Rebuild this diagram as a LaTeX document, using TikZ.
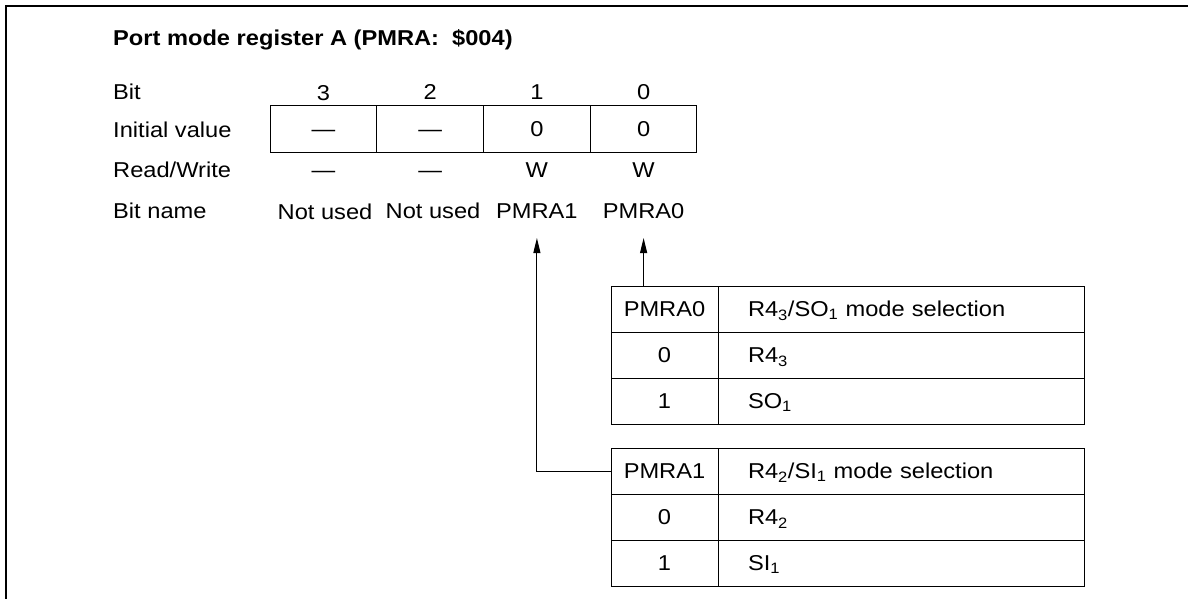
\documentclass[tikz,border=0pt]{standalone}
\usepackage{fontspec}
\setmainfont[FakeStretch=1.1]{Liberation Sans}
\usetikzlibrary{arrows.meta}
\tikzset{
  fnt/.style={font=\fontsize{21.5}{26}\selectfont},
  lbl/.style={fnt, anchor=west, inner sep=0pt, text height=15.4pt, text depth=0pt},
  txt/.style={fnt, inner sep=0pt, text height=15.4pt, text depth=0pt},
  regcell/.style={fnt, draw, line width=1pt, minimum width=106.75pt, minimum height=46pt, inner sep=0pt, text height=15.4pt, text depth=0pt},
  lcell/.style={fnt, draw, line width=1pt, minimum width=107pt, minimum height=46pt, inner sep=0pt, text height=15.4pt, text depth=0pt},
  rcell/.style={fnt, draw, line width=1pt, minimum height=46pt, text width=306pt, inner xsep=30pt, inner ysep=0pt, align=left, text height=15.4pt, text depth=0pt},
  arr/.style={line width=1pt, -{Triangle[length=15pt,width=7pt]}},
}
\begin{document}
\begin{tikzpicture}[x=1pt,y=-1pt]
\useasboundingbox (0,0) rectangle (1188,599);
\draw[line width=2pt] (6,599) -- (6,6) -- (1188,6);

\node[lbl, font=\fontsize{21.5}{26}\selectfont\bfseries] (title) at (113,37.5) {Port mode register A (PMRA:\ \ \$004)};

\node[lbl] (lbit) at (113,91.5) {Bit};
\node[lbl] (linit) at (113,130) {Initial value};
\node[lbl] (lrw) at (113,170) {Read/Write};
\node[lbl] (lname) at (113,211) {Bit name};

% bit numbers
\node[txt] (b3) at (323.4,93) {3};
\node[txt] (b2) at (430.1,92) {2};
\node[txt] (b1) at (536.9,92) {1};
\node[txt] (b0) at (643.6,92) {0};

% initial value cells
\node[regcell] (i3) at (323.4,129) {—};
\node[regcell] (i2) at (430.1,129) {—};
\node[regcell] (i1) at (536.9,129) {0};
\node[regcell] (i0) at (643.6,129) {0};

% read/write
\node[txt] (rw3) at (323.4,170) {—};
\node[txt] (rw2) at (430.1,170) {—};
\node[txt] (rw1) at (536.9,170) {W};
\node[txt] (rw0) at (643.6,170) {W};

% bit names
\node[txt] (n3) at (325,212) {Not used};
\node[txt] (n2) at (433,211) {Not used};
\node[txt] (n1) at (536.9,211) {PMRA1};
\node[txt] (n0) at (643.6,211) {PMRA0};

\coordinate (tip1) at (536.9,238);
\coordinate (tip0) at (643.6,238);

% table for PMRA0
\node[lcell] (t1h) at (664.5,309) {PMRA0};
\node[rcell] (t1hr) at (901,309) {R4\textsubscript{3}/SO\textsubscript{1} mode selection};
\node[lcell] (t1a) at (664.5,355) {0};
\node[rcell] (t1ar) at (901,355) {R4\textsubscript{3}};
\node[lcell] (t1b) at (664.5,401) {1};
\node[rcell] (t1br) at (901,401) {SO\textsubscript{1}};

% table for PMRA1
\node[lcell] (t2h) at (664.5,471) {PMRA1};
\node[rcell] (t2hr) at (901,471) {R4\textsubscript{2}/SI\textsubscript{1} mode selection};
\node[lcell] (t2a) at (664.5,517) {0};
\node[rcell] (t2ar) at (901,517) {R4\textsubscript{2}};
\node[lcell] (t2b) at (664.5,563) {1};
\node[rcell] (t2br) at (901,563) {SI\textsubscript{1}};

% connectors
\draw[arr] (t1h.north -| tip0) -- (tip0);
\draw[arr] (t2h.west) -| (tip1);
\end{tikzpicture}
\end{document}
